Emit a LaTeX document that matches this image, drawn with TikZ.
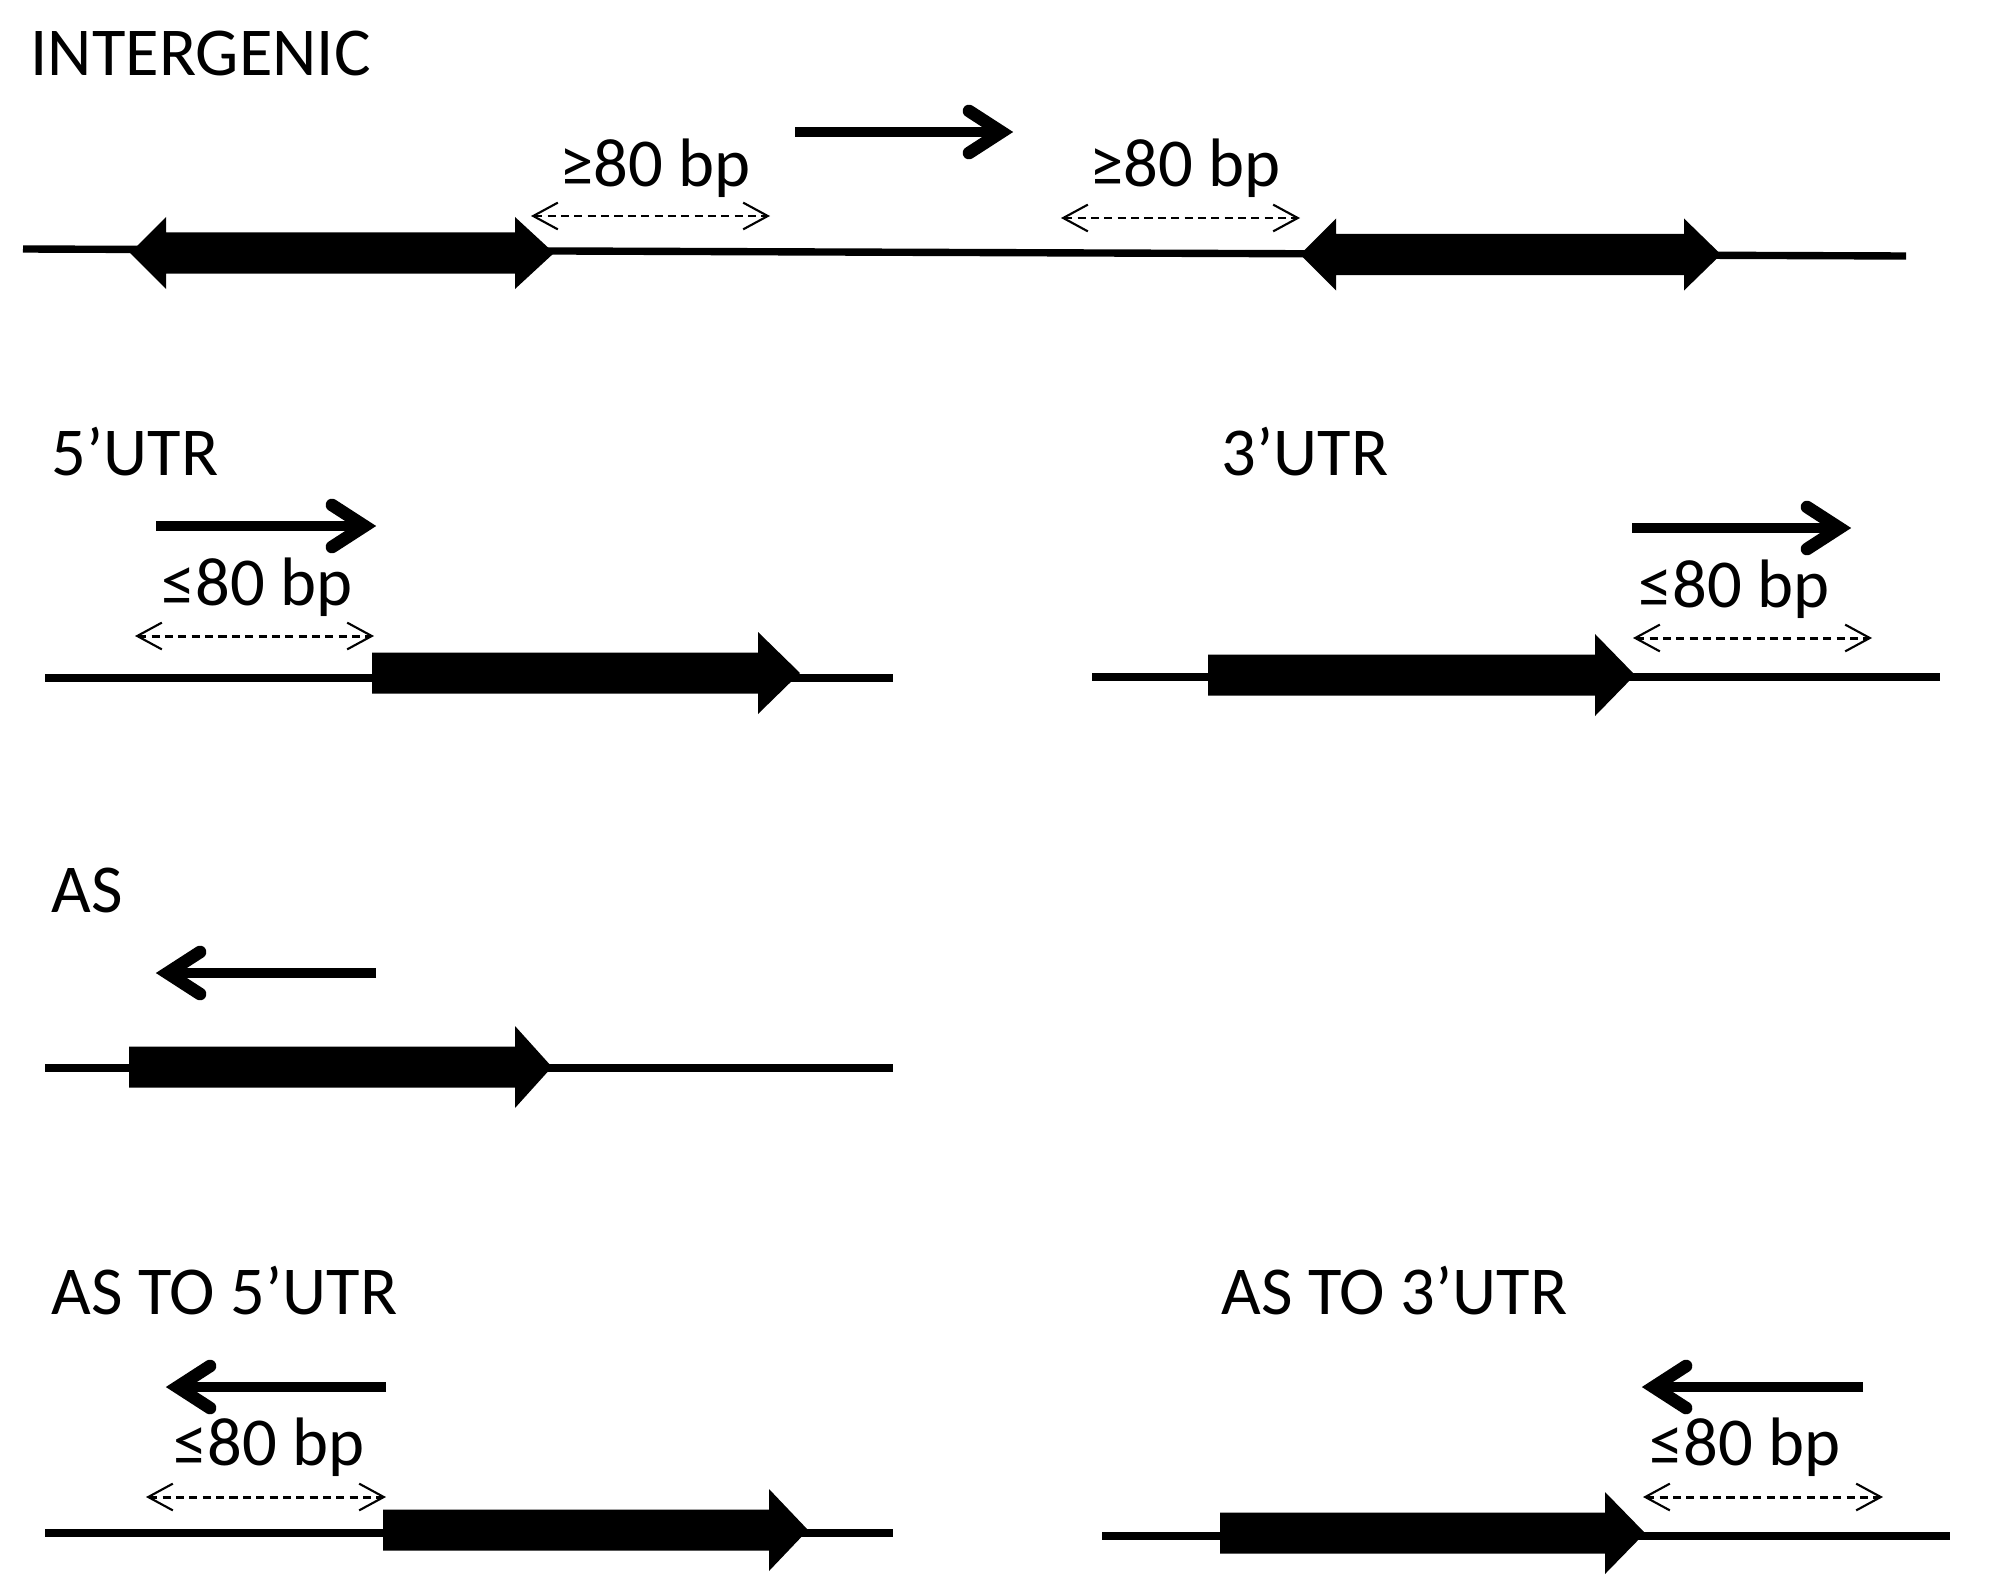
\documentclass[tikz,border=0pt]{standalone}
\usepackage{fontspec}
\setmainfont{Carlito}
\usetikzlibrary{arrows.meta,calc}
\newcommand\trright[2]{%
  \draw[shaft] (#1) -- ($(#2)+(-12,0)$);
  \draw[chev] ($(#2)+(-44,-21)$) -- ($(#2)+(-11.5,0)$) -- ($(#2)+(-44,21)$);}
\newcommand\trleft[2]{%
  \draw[shaft] (#1) -- ($(#2)+(12,0)$);
  \draw[chev] ($(#2)+(44,-21)$) -- ($(#2)+(11.5,0)$) -- ($(#2)+(44,21)$);}
\newcommand\generight[4]{%
  \fill[genebox] (#1,#4-20.5) -- (#2,#4-20.5) -- (#2,#4-41) -- (#3,#4) -- (#2,#4+41) -- (#2,#4+20.5) -- (#1,#4+20.5) -- cycle;}
\newcommand\genedouble[5]{%
  \fill[genebox] (#1,#5) -- (#2,#5-36) -- (#2,#5-20.5) -- (#3,#5-20.5) -- (#3,#5-36) -- (#4,#5) -- (#3,#5+36) -- (#3,#5+20.5) -- (#2,#5+20.5) -- (#2,#5+36) -- cycle;}
\begin{document}
\begin{tikzpicture}[x=0.01cm,y=-0.01cm,
  bb/.style={line width=2.1pt},
  genebox/.style={fill=black,draw=none},
  shaft/.style={line width=3.1pt},
  chev/.style={line width=3.6pt,line cap=round,line join=miter,miter limit=10},
  dimarrow/.style={line width=0.85pt,dash pattern=on 2.3pt off 1.5pt,
    {Straight Barb[length=7pt,width=7.6pt,line width=0.6pt]}-{Straight Barb[length=7pt,width=7.6pt,line width=0.6pt]}},
  lab/.style={anchor=base west,inner sep=0pt,font=\fontsize{19.5}{23}\selectfont},
  bp/.style={anchor=base,inner sep=0pt,font=\fontsize{19.5}{23}\selectfont}]
\useasboundingbox[fill=white] (0,0) rectangle (2000,1579);

% ---------- INTERGENIC ----------
\node[lab] (tInter) at (30,76) {INTERGENIC};
\coordinate (b1a) at (23,249);
\coordinate (b1b) at (1906,256);
\draw[bb] (b1a) -- (b1b);
\genedouble{130}{166}{515}{554}{253}
\genedouble{1300}{1336}{1684}{1721}{254.5}
\coordinate (d1a) at (531,216); \coordinate (d1b) at (770,216);
\draw[dimarrow] (d1a) -- (d1b);
\coordinate (d2a) at (1061,218); \coordinate (d2b) at (1300,218);
\draw[dimarrow] (d2a) -- (d2b);
\node[bp] (bp1) at (655,187) {≥80 bp};
\node[bp] (bp2) at (1185,187) {≥80 bp};
\coordinate (r1s) at (795,132); \coordinate (r1t) at (1013,132);
\trright{r1s}{r1t}

% ---------- 5'UTR ----------
\node[lab] (t5utr) at (51,475) {5’UTR};
\coordinate (b2a) at (45,678); \coordinate (b2b) at (893,678);
\draw[bb] (b2a) -- (b2b);
\generight{372}{758}{800}{673}
\coordinate (d3a) at (135,636); \coordinate (d3b) at (374,636);
\draw[dimarrow] (d3a) -- (d3b);
\node[bp] (bp3) at (257,605) {≤80 bp};
\coordinate (r2s) at (156,526); \coordinate (r2t) at (376,526);
\trright{r2s}{r2t}

% ---------- 3'UTR ----------
\node[lab] (t3utr) at (1221,475) {3’UTR};
\coordinate (b3a) at (1092,677); \coordinate (b3b) at (1940,677);
\draw[bb] (b3a) -- (b3b);
\generight{1208}{1595}{1635}{675}
\coordinate (d4a) at (1633,638); \coordinate (d4b) at (1872,638);
\draw[dimarrow] (d4a) -- (d4b);
\node[bp] (bp4) at (1734,607) {≤80 bp};
\coordinate (r3s) at (1632,528); \coordinate (r3t) at (1851,528);
\trright{r3s}{r3t}

% ---------- AS ----------
\node[lab] (tAS) at (51,912) {AS};
\coordinate (b4a) at (45,1068); \coordinate (b4b) at (893,1068);
\draw[bb] (b4a) -- (b4b);
\generight{129}{515}{552}{1067}
\coordinate (r4s) at (376,973); \coordinate (r4t) at (156,973);
\trleft{r4s}{r4t}

% ---------- AS TO 5'UTR ----------
\node[lab] (tAS5) at (51,1314) {AS TO 5’UTR};
\coordinate (b5a) at (45,1533); \coordinate (b5b) at (893,1533);
\draw[bb] (b5a) -- (b5b);
\generight{383}{769}{808}{1530}
\coordinate (d5a) at (146,1497); \coordinate (d5b) at (386,1497);
\draw[dimarrow] (d5a) -- (d5b);
\node[bp] (bp5) at (269,1465) {≤80 bp};
\coordinate (r5s) at (386,1387); \coordinate (r5t) at (166,1387);
\trleft{r5s}{r5t}

% ---------- AS TO 3'UTR ----------
\node[lab] (tAS3) at (1221,1314) {AS TO 3’UTR};
\coordinate (b6a) at (1102,1536); \coordinate (b6b) at (1950,1536);
\draw[bb] (b6a) -- (b6b);
\generight{1220}{1605}{1645}{1533}
\coordinate (d6a) at (1643,1497); \coordinate (d6b) at (1883,1497);
\draw[dimarrow] (d6a) -- (d6b);
\node[bp] (bp6) at (1745,1465) {≤80 bp};
\coordinate (r6s) at (1863,1387); \coordinate (r6t) at (1642,1387);
\trleft{r6s}{r6t}
\end{tikzpicture}
\end{document}
